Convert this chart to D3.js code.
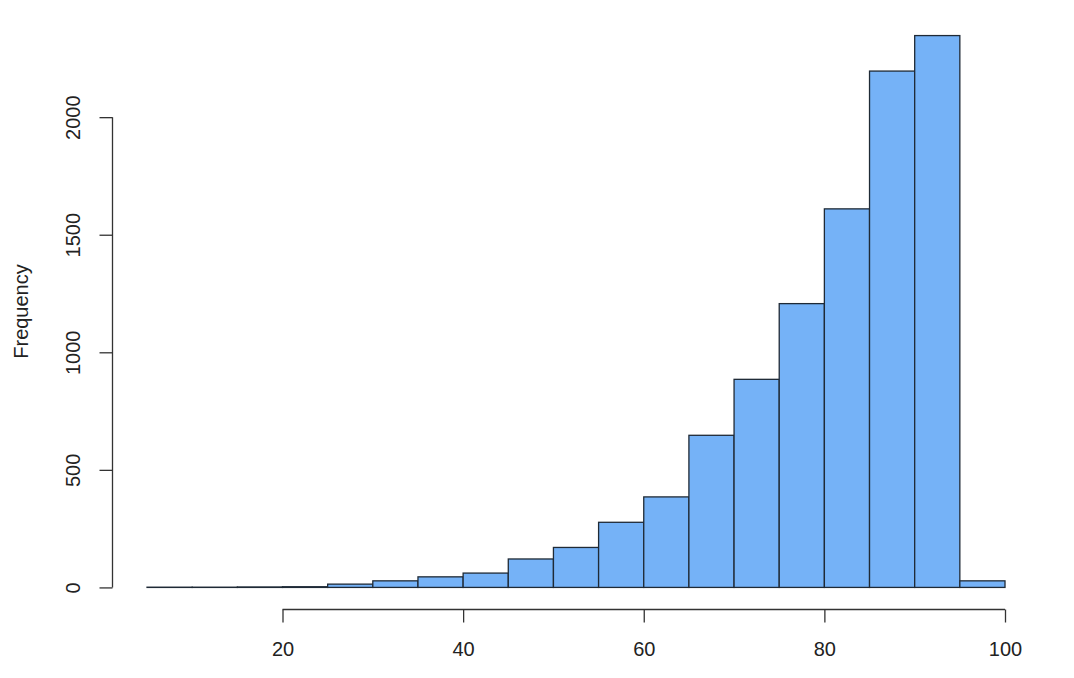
<!DOCTYPE html>
<html>
<head>
<meta charset="utf-8">
<script src="https://cdn.jsdelivr.net/npm/d3@7/dist/d3.min.js"></script>
<style>
  html, body { margin: 0; padding: 0; background: #fff; }
  svg { display: block; }
  text { font-family: "Liberation Sans", Arial, Helvetica, sans-serif; fill: #222; }
</style>
</head>
<body>
<svg id="chart" width="1074" height="678"></svg>
<script>
// Histogram bins (lower edges, width 5) and counts
const binStarts = [5, 10, 15, 20, 25, 30, 35, 40, 45, 50, 55, 60, 65, 70, 75, 80, 85, 90, 95];
const binWidth = 5;
const counts = [1, 1, 2, 3, 14, 28, 45, 61, 121, 170, 277, 385, 647, 885, 1207, 1610, 2196, 2347, 28];
const xTicks = [20, 40, 60, 80, 100];
const yTicks = [0, 500, 1000, 1500, 2000];
const yLabel = "Frequency";

const svg = d3.select("#chart");

const yMaxData = d3.max(counts);
const yPad = yMaxData * 0.04;

const plotLeft = 112.5;
const plotTop = 13.5, plotBottom = 609.5;

const x = d3.scaleLinear().domain([20, 100]).range([282.5, 1005]);
const y = d3.scaleLinear().domain([-yPad, yMaxData + yPad]).range([plotBottom, plotTop]);

// Bars
svg.append("g").selectAll("rect")
  .data(binStarts.map((s, i) => ({ s, c: counts[i] })))
  .join("rect")
  .attr("x", d => x(d.s))
  .attr("width", d => x(d.s + binWidth) - x(d.s))
  .attr("y", d => y(d.c))
  .attr("height", d => y(0) - y(d.c))
  .attr("fill", "#75b2f7")
  .attr("stroke", "#1f2a36")
  .attr("stroke-width", 1.3);

// X axis (R style: line from first to last tick)
const xAxis = d3.axisBottom(x).tickValues(xTicks).tickSize(13).tickPadding(19).tickSizeOuter(0).tickFormat(d3.format("d"));
const gx = svg.append("g").attr("transform", `translate(0,${plotBottom})`).call(xAxis);
gx.select(".domain").attr("d", `M${x(xTicks[0])},0H${x(xTicks[xTicks.length - 1])}`).attr("stroke", "#333").attr("stroke-width", 1.3);
gx.selectAll(".tick line").attr("stroke", "#333").attr("stroke-width", 1.3);
gx.selectAll(".tick text").attr("font-size", 20).attr("font-family", "Liberation Sans, Arial, sans-serif").attr("fill", "#222");

// Y axis
const yAxis = d3.axisLeft(y).tickValues(yTicks).tickSize(13).tickPadding(0).tickSizeOuter(0).tickFormat(d3.format("d"));
const gy = svg.append("g").attr("transform", `translate(${plotLeft},0)`).call(yAxis);
gy.select(".domain").attr("d", `M0,${y(yTicks[0])}V${y(yTicks[yTicks.length - 1])}`).attr("stroke", "#333").attr("stroke-width", 1.3);
gy.selectAll(".tick line").attr("stroke", "#333").attr("stroke-width", 1.3);
gy.selectAll(".tick text")
  .attr("font-size", 20)
  .attr("font-family", "Liberation Sans, Arial, sans-serif")
  .attr("fill", "#222")
  .attr("x", null)
  .attr("text-anchor", "middle")
  .attr("transform", "translate(-40,0) rotate(-90)")
  .attr("dy", "0.35em");

// Y label
svg.append("text")
  .attr("transform", `translate(28,${(plotTop + plotBottom) / 2}) rotate(-90)`)
  .attr("text-anchor", "middle")
  .attr("font-size", 20)
  .text(yLabel);
</script>
</body>
</html>
